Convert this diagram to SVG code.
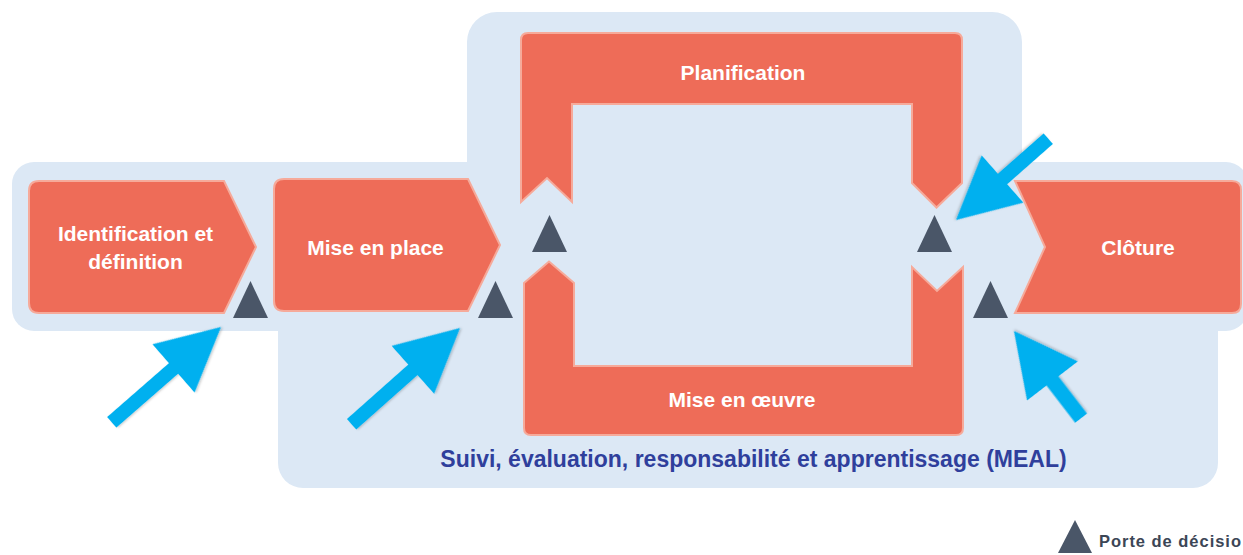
<svg xmlns="http://www.w3.org/2000/svg" xmlns:xlink="http://www.w3.org/1999/xlink" width="1243" height="555" viewBox="0 0 1243 555">
  <style>
    .bg { fill: #DCE8F5; }
    .phase { fill: #EE6C58; stroke: #F6AA9A; stroke-width: 2; stroke-linejoin: miter; }
    .lbl { font-family: "Liberation Sans", Arial, sans-serif; font-weight: bold; font-size: 21px; fill: #FFFFFF; text-anchor: middle; }
    .meal { font-family: "Liberation Sans", Arial, sans-serif; font-weight: bold; font-size: 23px; fill: #2F3F9C; text-anchor: middle; }
    .legend { font-family: "Liberation Sans", Arial, sans-serif; font-weight: bold; font-size: 16.5px; fill: #3C4656; }
    .gate { fill: #4A5668; }
    .arrow { fill: #00B0EF; filter: url(#sh); }
  </style>
  <defs>
    <filter id="sh" x="-20%" y="-20%" width="140%" height="140%">
      <feDropShadow dx="1.2" dy="1.2" stdDeviation="1" flood-color="#000" flood-opacity="0.22"/>
    </filter>
    <path id="tri" d="M0,0 L17.5,-37 L35,0 Z"/>
  </defs>

  <rect width="1243" height="555" fill="#FFFFFF"/>

  <g id="meal-background">
    <rect class="bg" x="12" y="162" width="1236" height="169" rx="22" ry="22"/>
    <rect class="bg" x="278" y="200" width="940" height="288" rx="25" ry="25"/>
    <rect class="bg" x="467" y="12" width="555" height="200" rx="30" ry="30"/>
    <text class="meal" x="753.5" y="467">Suivi, évaluation, responsabilité et apprentissage (MEAL)</text>
  </g>

  <g id="node-identification">
    <path class="phase" d="M39,181 L224,181 L256,247 L224,313 L39,313 Q29,313 29,303 L29,191 Q29,181 39,181 Z"/>
    <text class="lbl" x="135.5" y="241">Identification et</text>
    <text class="lbl" x="135.5" y="269">définition</text>
  </g>

  <g id="node-mise-en-place">
    <path class="phase" d="M284,179 L468,179 L500,245 L468,311 L284,311 Q274,311 274,301 L274,189 Q274,179 284,179 Z"/>
    <text class="lbl" x="375.5" y="255">Mise en place</text>
  </g>

  <g id="node-planification">
    <path class="phase" d="M528,33 L955,33 Q962,33 962,40 L962,183 L936.5,207.5 L912,183 L912,104 L572,104 L572,202 L547,178 L521,202 L521,40 Q521,33 528,33 Z"/>
    <text class="lbl" x="743" y="80">Planification</text>
  </g>

  <g id="node-mise-en-oeuvre">
    <path class="phase" d="M524,283 L549,261.5 L574,283 L574,366 L912,366 L912,267 L937,291 L963,267 L963,428 Q963,435 956,435 L531,435 Q524,435 524,428 Z"/>
    <text class="lbl" x="742" y="407">Mise en œuvre</text>
  </g>

  <g id="node-cloture">
    <path class="phase" d="M1015,181 L1232,181 Q1241,181 1241,190 L1241,304 Q1241,313 1232,313 L1015,313 L1045,247 Z"/>
    <text class="lbl" x="1138" y="255">Clôture</text>
  </g>

  <g id="decision-gates">
    <use xlink:href="#tri" class="gate" x="233" y="318"/>
    <use xlink:href="#tri" class="gate" x="478" y="318"/>
    <use xlink:href="#tri" class="gate" x="532" y="252"/>
    <use xlink:href="#tri" class="gate" x="917" y="252"/>
    <use xlink:href="#tri" class="gate" x="973" y="318"/>
  </g>

  <g id="connectors">
    <path class="arrow" transform="translate(221,327) rotate(-41.1)" d="M0,0 L-63,-32 L-63,-7 L-145,-7 L-145,7 L-63,7 L-63,32 Z"/>
    <path class="arrow" transform="translate(460,328) rotate(-41.6)" d="M0,0 L-63,-32 L-63,-7 L-145,-7 L-145,7 L-63,7 L-63,32 Z"/>
    <path class="arrow" transform="translate(956,220) rotate(138.6)" d="M0,0 L-62,-31.5 L-62,-7 L-123,-7 L-123,7 L-62,7 L-62,31.5 Z"/>
    <path class="arrow" transform="translate(1014,331) rotate(-127.6)" d="M0,0 L-63,-32 L-63,-7.5 L-110,-7.5 L-110,7.5 L-63,7.5 L-63,32 Z"/>
  </g>

  <g id="legend">
    <path class="gate" d="M1058,553 L1075,520 L1092,553 Z"/>
    <text class="legend" x="1099" y="547" textLength="142" lengthAdjust="spacing">Porte de décisio</text>
  </g>
</svg>
